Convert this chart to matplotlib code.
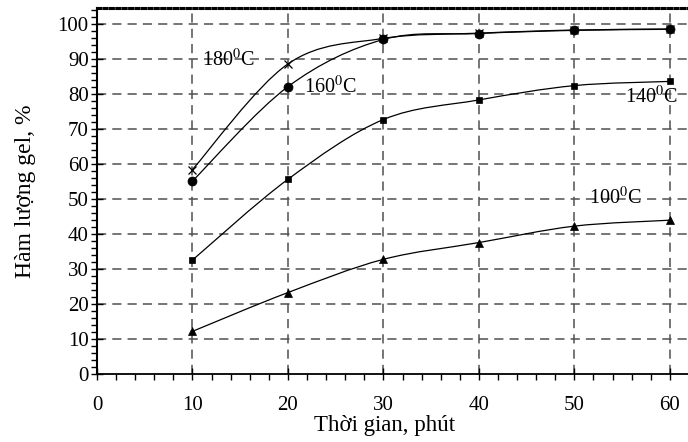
import matplotlib
matplotlib.use('Agg')
import matplotlib.pyplot as plt
from matplotlib.path import Path
from matplotlib.patches import PathPatch
from matplotlib.ticker import MultipleLocator
import numpy as np

plt.rcParams['font.family'] = ['Liberation Serif', 'DejaVu Serif']
plt.rcParams['mathtext.fontset'] = 'stix'

# Data
time_min = [10, 20, 30, 40, 50, 60]
gel_180 = [58.5, 88.7, 96.0, 97.5, 98.4, 98.7]
gel_160 = [55.2, 82.2, 95.7, 97.4, 98.3, 98.6]
gel_140 = [32.6, 55.7, 72.8, 78.4, 82.5, 83.7]
gel_100 = [12.2, 23.3, 32.8, 37.6, 42.3, 44.0]

labels = [r'180$^{\mathrm{0}}$C', r'160$^{\mathrm{0}}$C', r'140$^{\mathrm{0}}$C', r'100$^{\mathrm{0}}$C']
label_pos = [(11.0, 89.8), (21.7, 82.0), (55.3, 79.3), (51.5, 50.4)]


def smooth_path(xs, ys):
    # Catmull-Rom style bezier through points (like Excel smoothed line)
    pts = np.column_stack([xs, ys]).astype(float)
    verts = [pts[0]]
    codes = [Path.MOVETO]
    n = len(pts)
    for i in range(n - 1):
        p0 = pts[i - 1] if i > 0 else pts[i]
        p1 = pts[i]
        p2 = pts[i + 1]
        p3 = pts[i + 2] if i + 2 < n else pts[i + 1]
        c1 = p1 + (p2 - p0) / 6.0
        c2 = p2 - (p3 - p1) / 6.0
        verts += [c1, c2, p2]
        codes += [Path.CURVE4] * 3
    return Path(verts, codes)


fig = plt.figure(figsize=(6.88, 4.42), dpi=100)
ax = fig.add_axes([97 / 688, 68 / 442, 591 / 688, 366 / 442])

series = [(gel_180, 'x', 6, 0.9), (gel_160, 'o', 6.5, 0), (gel_140, 's', 4.5, 0), (gel_100, '^', 5.5, 0)]
for ys, m, ms, mew in series:
    ax.add_patch(PathPatch(smooth_path(time_min, ys), facecolor='none', edgecolor='black', lw=0.9, zorder=3))
    ax.plot(time_min, ys, linestyle='none', marker=m, markersize=ms, color='black',
            markeredgewidth=mew if mew else 0.5, zorder=4)

for txt, (tx, ty) in zip(labels, label_pos):
    ax.text(tx, ty, txt, fontsize=14.5, va='center', ha='left', zorder=5)

ax.set_xlim(0, 61.9)
ax.set_ylim(0, 104.7)
ax.xaxis.set_major_locator(MultipleLocator(10))
ax.xaxis.set_minor_locator(MultipleLocator(2))
ax.yaxis.set_major_locator(MultipleLocator(10))
ax.yaxis.set_minor_locator(MultipleLocator(2))
ax.set_yticks(np.arange(0, 101, 10))

for v in range(10, 61, 10):
    ax.axvline(v, color='#505050', lw=1.1, dashes=(6, 4), zorder=1)
for v in range(10, 101, 10):
    ax.axhline(v, color='#505050', lw=1.1, dashes=(6, 4), zorder=1)

ax.spines['right'].set_visible(False)
ax.spines['top'].set_linestyle((0, (1, 1.1)))
ax.spines['top'].set_linewidth(2.2)
ax.spines['bottom'].set_linestyle((0, (3, 1)))
ax.spines['bottom'].set_linewidth(1.3)
ax.spines['left'].set_linewidth(1.5)

ax.tick_params(axis='both', which='major', direction='inout', length=8, width=1, labelsize=15)
ax.tick_params(axis='both', which='minor', direction='out', length=4, width=1)
ax.tick_params(axis='x', which='major', pad=12)
ax.tick_params(axis='y', which='major', pad=2)

ax.set_xlabel('Thời gian, phút', fontsize=16.5)
ax.set_ylabel('Hàm lượng gel, %', fontsize=17)
ax.xaxis.set_label_coords(0.487, -0.112)
ax.yaxis.set_label_coords(-0.103, 0.5)

fig.savefig('out.png', dpi=100)
